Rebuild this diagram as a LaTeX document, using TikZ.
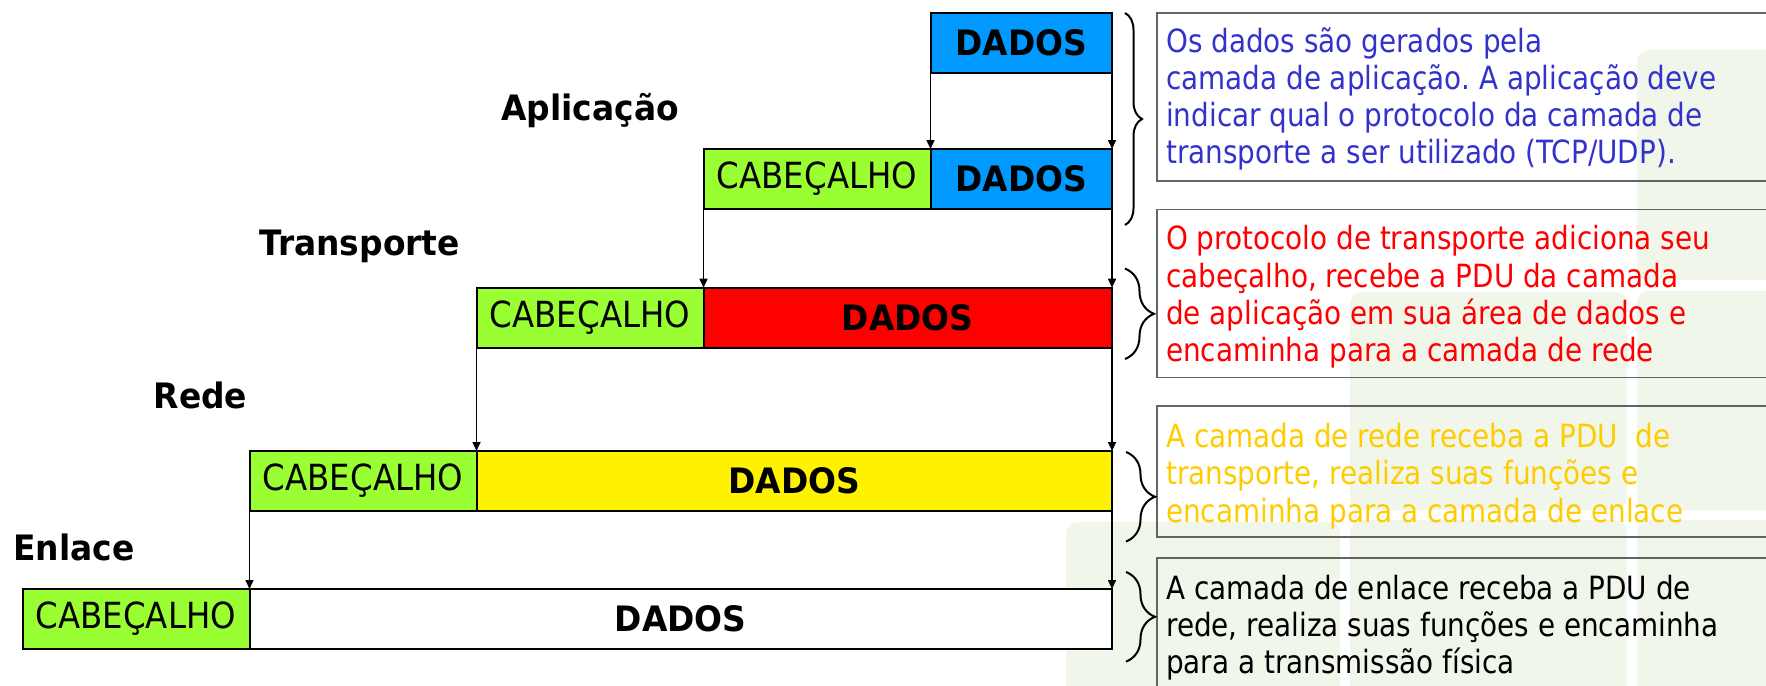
\documentclass[tikz,border=0pt]{standalone}
\usepackage{fontspec}
\setmainfont{DejaVu Sans}
\newfontfamily\boxfont[FakeStretch=0.87]{DejaVu Sans}
\newfontfamily\hdrfont[FakeStretch=0.9]{DejaVu Sans}
\newfontfamily\lblfont[FakeStretch=0.94]{DejaVu Sans}
\usetikzlibrary{arrows.meta,decorations.pathreplacing}
\definecolor{pdublue}{RGB}{0,153,255}
\definecolor{hdrgreen}{RGB}{153,255,51}
\definecolor{txtblue}{RGB}{51,51,204}
\definecolor{txtred}{RGB}{255,0,0}
\definecolor{txtyellow}{RGB}{255,204,0}
\definecolor{wmgreen}{RGB}{240,246,234}
\definecolor{boxgray}{RGB}{100,100,100}
\frenchspacing
\begin{document}
\begin{tikzpicture}[x=1pt,y=-1pt,
  cell/.style={draw=black,line width=2pt,inner sep=0pt,outer sep=0pt,minimum height=60pt,anchor=north west},
  hdr/.style={cell,fill=hdrgreen,minimum width=227pt,font=\hdrfont\fontsize{36}{40}\selectfont},
  dat/.style={cell,font=\lblfont\bfseries\fontsize{35}{40}\selectfont},
  layer/.style={anchor=base west,inner sep=0pt,font=\lblfont\bfseries\fontsize{35}{40}\selectfont},
  note/.style={draw=boxgray,line width=1.5pt,anchor=north west,inner sep=0pt,outer sep=0pt,minimum width=700pt},
  notetext/.style={anchor=base west,inner sep=0pt,font=\boxfont\frenchspacing\fontsize{32}{37.2}\selectfont},
  flow/.style={line width=1.6pt,-{Triangle[length=9pt,width=8pt]}},
  brc/.style={line width=2pt,decorate,decoration={brace,amplitude=#1}},
  wm/.style={fill=wmgreen,draw=none,rounded corners=12pt}
]
\useasboundingbox (0,0) rectangle (1766,685);
\clip (0,0) rectangle (1766,685);
\fill[white] (0,0) rectangle (1766,685);

% faint watermark
\fill[wm] (1637,50) rectangle (1800,280);
\fill[wm] (1637,291) rectangle (1800,510);
\fill[wm] (1637,520) rectangle (1800,720);
\fill[wm] (1350,292) rectangle (1627,510);
\fill[wm] (1350,520) rectangle (1627,720);
\fill[wm] (1066,522) rectangle (1340,720);

% PDU rows
\node[dat,fill=pdublue,minimum width=181.5pt] (r1d) at (930.5,12.7) {DADOS};
\node[dat,fill=pdublue,minimum width=181.5pt] (r2d) at (930.5,149) {DADOS};
\node[hdr] (r2h) at (703.5,149) {CABEÇALHO};
\node[dat,fill=red,minimum width=408.5pt] (r3d) at (703.5,287.7) {DADOS};
\node[hdr] (r3h) at (476.5,287.7) {CABEÇALHO};
\node[dat,fill=yellow,minimum width=635.5pt] (r4d) at (476.5,451) {DADOS};
\node[hdr] (r4h) at (249.5,451) {CABEÇALHO};
\node[dat,fill=white,minimum width=862.5pt] (r5d) at (249.5,589) {DADOS};
\node[hdr] (r5h) at (22.5,589) {CABEÇALHO};

% connectors
\draw[flow] (r1d.south west) -- (r2d.north west);
\draw[flow] (r1d.south east) -- (r2d.north east);
\draw[flow] (r2h.south west) -- (r3d.north west);
\draw[flow] (r2d.south east) -- (r3d.north east);
\draw[flow] (r3h.south west) -- (r4d.north west);
\draw[flow] (r3d.south east) -- (r4d.north east);
\draw[flow] (r4h.south west) -- (r5d.north west);
\draw[flow] (r4d.south east) -- (r5d.north east);

% layer labels
\node[layer] (lapl) at (501,120.5) {Aplicação};
\node[layer] (ltra) at (259,255) {Transporte};
\node[layer] (lred) at (153.5,408.5) {Rede};
\node[layer] (lenl) at (13,560.5) {Enlace};

% note boxes
\node[note,minimum height=168pt] (n1) at (1157,13) {};
\node[note,minimum height=168pt] (n2) at (1157,209.6) {};
\node[note,minimum height=131pt] (n3) at (1157,406) {};
\node[note,minimum height=160pt] (n4) at (1157,558) {};

\node[notetext,text=txtblue] (t1) at (1166,52.4) {\vtop{\hbox{Os dados são gerados pela}\hbox{camada de aplicação. A aplicação deve}\hbox{indicar qual o protocolo da camada de}\hbox{transporte a ser utilizado (TCP/UDP).}}};
\node[notetext,text=txtred] (t2) at (1166,249.8) {\vtop{\hbox{O protocolo de transporte adiciona seu}\hbox{cabeçalho, recebe a PDU da camada}\hbox{de aplicação em sua área de dados e}\hbox{encaminha para a camada de rede}}};
\node[notetext,text=txtyellow] (t3) at (1166,447.6) {\vtop{\hbox{A camada de rede receba a PDU\ \ de}\hbox{transporte, realiza suas funções e}\hbox{encaminha para a camada de enlace}}};
\node[notetext,text=black] (t4) at (1166,599) {\vtop{\hbox{A camada de enlace receba a PDU de}\hbox{rede, realiza suas funções e encaminha}\hbox{para a transmissão física}}};

% braces
\coordinate (b1a) at (1125,13);  \coordinate (b1b) at (1125,225);
\coordinate (b2a) at (1125,268.6); \coordinate (b2b) at (1125,359);
\coordinate (b3a) at (1126,452); \coordinate (b3b) at (1126,541.5);
\coordinate (b4a) at (1126,572); \coordinate (b4b) at (1126,661.6);
\draw[brc=17pt] (b1a) -- (b1b);
\draw[brc=29pt] (b2a) -- (b2b);
\draw[brc=29pt] (b3a) -- (b3b);
\draw[brc=29pt] (b4a) -- (b4b);
\end{tikzpicture}
\end{document}
